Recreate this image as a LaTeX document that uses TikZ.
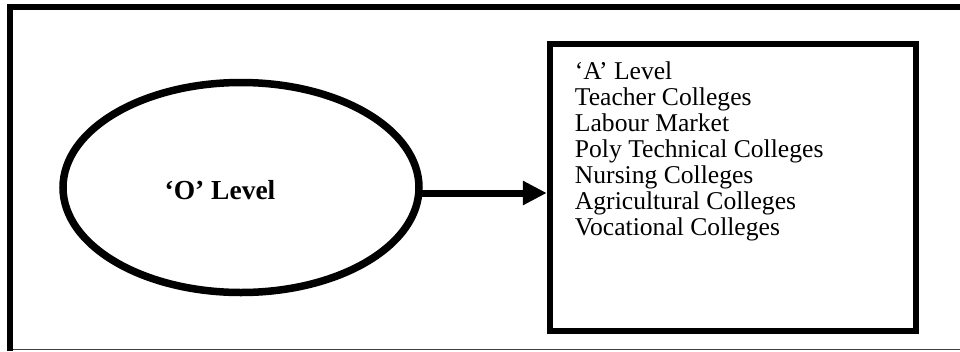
\documentclass[tikz,border=0pt]{standalone}
\usepackage{fontspec}
\setmainfont{Liberation Serif}
\usetikzlibrary{shapes.geometric,arrows.meta,positioning}

\tikzset{
	thickline/.style={line width=6.5pt},
	listtext/.style={inner sep=0pt, align=left, font=\fontsize{25.6}{26}\selectfont}
}

\begin{document}
\begin{tikzpicture}[x=1pt,y=-1pt]
	\useasboundingbox (0,0) rectangle (960,351);

	% frame
	\draw[line width=6pt] (10,351) -- (10,7) -- (960,7);
	\draw[line width=1.2pt, black!75] (13,349.5) -- (960,349.5);

	% 'O' level
	\node[ellipse, draw, line width=7.5pt, minimum width=356pt, minimum height=210pt] (olevel) at (241,187.5) {};
	\node[font=\bfseries\fontsize{27.5}{27.5}\selectfont] (olevellbl) at (220,190) {`O' Level};

	% options
	\node[draw, thickline, minimum width=366pt, minimum height=287pt, inner sep=0pt] (dest) at (733,187.5) {};
	\node[listtext, below right=20.5pt and 28pt of dest.north west] (destlist) {%
		`A' Level\\
		Teacher Colleges\\
		Labour Market\\
		Poly Technical Colleges\\
		Nursing Colleges\\
		Agricultural Colleges\\
		Vocational Colleges};

	% arrow
	\coordinate (arrowstart) at ([yshift=-5.5pt,xshift=-1pt]olevel.east);
	\draw[line width=7pt, -{Triangle[length=24pt,width=23pt]}] (arrowstart) -- (dest.west |- arrowstart);

\end{tikzpicture}
\end{document}
